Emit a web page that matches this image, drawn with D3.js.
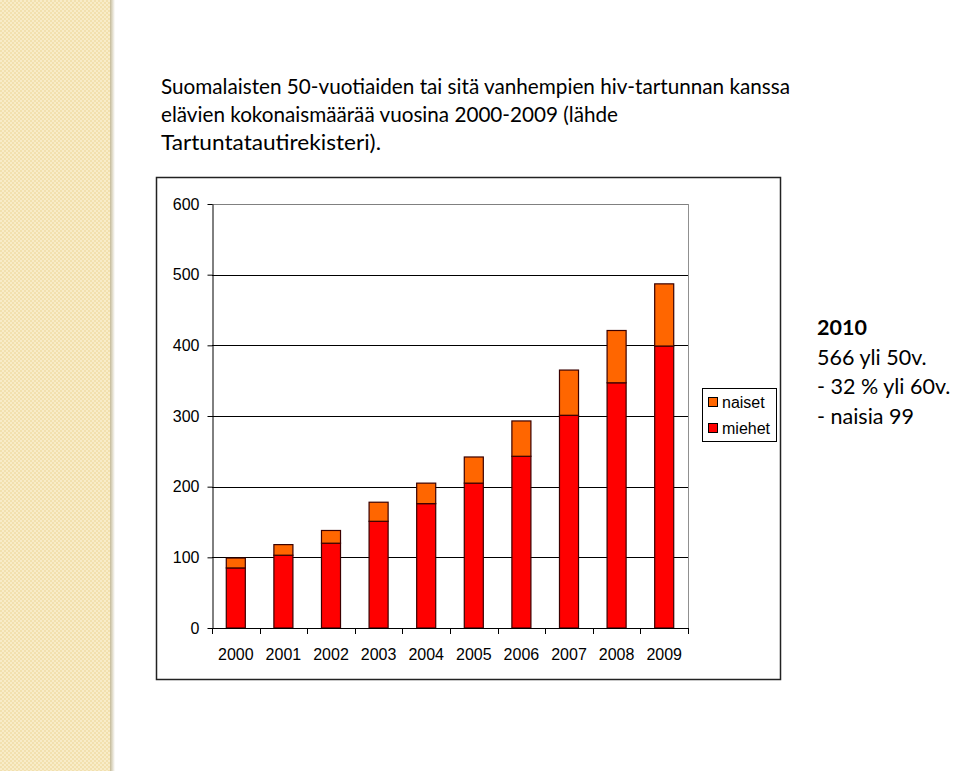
<!DOCTYPE html>
<html>
<head>
<meta charset="utf-8">
<script src="https://cdn.jsdelivr.net/npm/d3@7"></script>
<style>
  html, body { margin: 0; padding: 0; background: #fff; }
  svg { display: block; }
</style>
</head>
<body>
<div id="chart"></div>
<script>
// Data
const years = ["2000", "2001", "2002", "2003", "2004", "2005", "2006", "2007", "2008", "2009"];
const miehet = [85, 103, 120, 151, 176, 205, 243, 301, 347, 399];
const naiset = [14, 15, 18, 27, 29, 37, 50, 64, 74, 88];
const yTicks = [0, 100, 200, 300, 400, 500, 600];
const seriesNames = ["miehet", "naiset"];
const titleLines = [
    "Suomalaisten 50-vuotiaiden tai sitä vanhempien hiv-tartunnan kanssa",
    "elävien kokonaismäärää vuosina 2000-2009 (lähde",
    "Tartuntatautirekisteri)."
];
const titleWidths = [629, 457, 220];
const noteLines = ["2010", "566 yli 50v.", "- 32 % yli 60v.", "- naisia 99"];

const W = 959, H = 771;
const svg = d3.select("#chart").append("svg")
    .attr("width", W).attr("height", H);

// Textured strip on the left
const defs = svg.append("defs");
const pat = defs.append("pattern")
    .attr("id", "weave").attr("width", 4).attr("height", 4)
    .attr("patternUnits", "userSpaceOnUse");
pat.append("rect").attr("width", 4).attr("height", 4).attr("fill", "#f2e0ae");
pat.append("rect").attr("x", 0).attr("y", 0).attr("width", 2).attr("height", 2).attr("fill", "#f8ecc8");
pat.append("rect").attr("x", 2).attr("y", 2).attr("width", 2).attr("height", 2).attr("fill", "#f8ecc8");
const shade = defs.append("linearGradient").attr("id", "shade");
shade.append("stop").attr("offset", "0%").attr("stop-color", "#c4ba98");
shade.append("stop").attr("offset", "100%").attr("stop-color", "#ffffff");

svg.append("rect").attr("x", 0).attr("y", 0).attr("width", 110).attr("height", H).attr("fill", "url(#weave)");
svg.append("rect").attr("x", 110).attr("y", 0).attr("width", 5).attr("height", H).attr("fill", "url(#shade)");

// Title
svg.append("g").selectAll("text")
    .data(titleLines)
    .enter().append("text")
    .attr("x", 161)
    .attr("y", (d, i) => 94 + i * 28)
    .attr("textLength", (d, i) => titleWidths[i])
    .attr("lengthAdjust", "spacingAndGlyphs")
    .style("font-family", "Lato, 'Open Sans', sans-serif")
    .style("font-size", "20.5px")
    .attr("fill", "#000")
    .text(d => d);

// Chart frame
svg.append("rect")
    .attr("x", 156.5).attr("y", 177.5)
    .attr("width", 624).attr("height", 502)
    .attr("fill", "#fff").attr("stroke", "#222").attr("stroke-width", 1.5);

// Scales
const plot = { left: 212, right: 688, top: 204, bottom: 628 };
const x = d3.scaleBand()
    .domain(years)
    .range([plot.left, plot.right])
    .paddingInner(0.6)
    .paddingOuter(0.3);
const y = d3.scaleLinear()
    .domain([0, 600])
    .range([plot.bottom, plot.top]);
const color = d3.scaleOrdinal()
    .domain(seriesNames)
    .range(["#ff0000", "#ff6600"]);

// Grid lines
const g = svg.append("g");
g.selectAll(".grid")
    .data(yTicks.filter(t => t > 0))
    .enter().append("line")
    .attr("class", "grid")
    .attr("x1", plot.left).attr("x2", plot.right)
    .attr("y1", d => Math.round(y(d)) + 0.5).attr("y2", d => Math.round(y(d)) + 0.5)
    .attr("stroke", d => d === 600 ? "#808080" : "#000")
    .attr("stroke-width", 1);
// right side of plot area
g.append("line")
    .attr("x1", plot.right + 0.5).attr("x2", plot.right + 0.5)
    .attr("y1", plot.top).attr("y2", plot.bottom)
    .attr("stroke", "#909090");

// Stacked bars
const rows = years.map((yr, i) => ({ year: yr, miehet: miehet[i], naiset: naiset[i] }));
const stacked = d3.stack().keys(seriesNames)(rows);
g.selectAll(".series")
    .data(stacked)
    .enter().append("g")
    .attr("class", "series")
    .attr("fill", d => color(d.key))
    .selectAll("rect")
    .data(d => d)
    .enter().append("rect")
    .attr("x", d => x(d.data.year))
    .attr("y", d => y(d[1]))
    .attr("width", x.bandwidth())
    .attr("height", d => y(d[0]) - y(d[1]))
    .attr("stroke", "#3a0000")
    .attr("stroke-width", 1.2);

// Y axis
const yAxis = g.append("g")
    .attr("transform", `translate(${plot.left + 0.5},0)`)
    .call(d3.axisLeft(y).tickValues(yTicks).tickSize(5).tickSizeOuter(0).tickPadding(8));
yAxis.select(".domain").attr("stroke", "#000");
yAxis.selectAll("line").attr("stroke", "#000");
yAxis.selectAll("text")
    .style("font-family", "'Liberation Sans', Arial, sans-serif")
    .style("font-size", "16px")
    .attr("fill", "#000");

// X axis: line, ticks between categories, labels under bars
const xa = g.append("g");
xa.append("line")
    .attr("x1", plot.left).attr("x2", plot.right + 1)
    .attr("y1", plot.bottom + 0.5).attr("y2", plot.bottom + 0.5)
    .attr("stroke", "#000");
xa.selectAll(".xtick")
    .data(d3.range(years.length + 1))
    .enter().append("line")
    .attr("class", "xtick")
    .attr("x1", i => Math.round(plot.left + i * x.step()) + 0.5)
    .attr("x2", i => Math.round(plot.left + i * x.step()) + 0.5)
    .attr("y1", plot.bottom).attr("y2", plot.bottom + 6)
    .attr("stroke", "#000");
xa.selectAll(".xlabel")
    .data(years)
    .enter().append("text")
    .attr("class", "xlabel")
    .attr("x", d => x(d) + x.bandwidth() / 2)
    .attr("y", 660)
    .attr("text-anchor", "middle")
    .style("font-family", "'Liberation Sans', Arial, sans-serif")
    .style("font-size", "16px")
    .text(d => d);

// Legend
const legend = svg.append("g");
legend.append("rect")
    .attr("x", 702.5).attr("y", 388.5)
    .attr("width", 74).attr("height", 53)
    .attr("fill", "#fff").attr("stroke", "#000");
const legendItems = ["naiset", "miehet"];
legend.selectAll(".sw")
    .data(legendItems)
    .enter().append("rect")
    .attr("class", "sw")
    .attr("x", 708.5)
    .attr("y", (d, i) => 397.5 + i * 26)
    .attr("width", 9).attr("height", 9)
    .attr("fill", d => color(d))
    .attr("stroke", "#000");
legend.selectAll(".lt")
    .data(legendItems)
    .enter().append("text")
    .attr("class", "lt")
    .attr("x", 722)
    .attr("y", (d, i) => 408 + i * 26)
    .style("font-family", "'Liberation Sans', Arial, sans-serif")
    .style("font-size", "16px")
    .text(d => d);

// Side note
svg.append("g").selectAll("text")
    .data(noteLines)
    .enter().append("text")
    .attr("x", 817)
    .attr("y", (d, i) => 335 + i * 29.5)
    .style("font-family", "Lato, 'Open Sans', sans-serif")
    .style("font-size", "21.5px")
    .style("font-weight", (d, i) => i === 0 ? "bold" : "normal")
    .text(d => d);
</script>
</body>
</html>
